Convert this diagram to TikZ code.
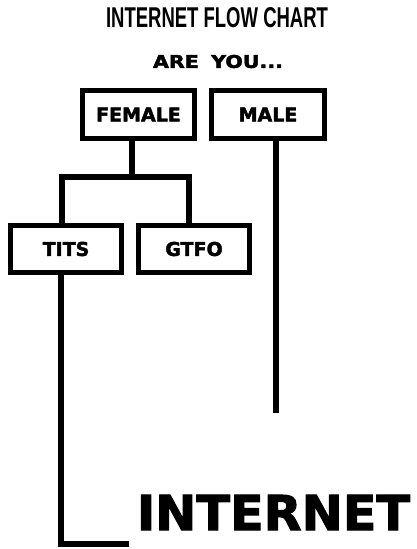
\documentclass[tikz,border=0pt]{standalone}
\usepackage{fontspec}
\usepackage{graphicx}
\setmainfont{DejaVu Sans}
\newfontfamily\heavyfont[FakeBold=2.2]{DejaVu Sans Bold}
\newfontfamily\titlefont{Liberation Sans Bold}
\begin{document}
\begin{tikzpicture}[x=1pt,y=-1pt,
  optbox/.style={draw=black,line width=5pt,fill=white,inner sep=0pt,
    minimum height=48pt,font=\fontsize{19}{19}\heavyfont},
  wire/.style={line width=6pt,line join=miter,line cap=butt},
  lbl/.style={inner sep=0pt,anchor=center}]
\useasboundingbox[fill=white] (0,0) rectangle (417,549);
\node[lbl] (title) at (217,18) {\resizebox{222pt}{20pt}{\titlefont INTERNET FLOW CHART}};
\node[lbl] (areyou) at (218,61.5) {\resizebox{130pt}{13pt}{\heavyfont ARE\hspace{0.6em}YOU...}};
\node[optbox,minimum width=112pt] (female) at (138.5,114.5) {FEMALE};
\node[optbox,minimum width=113pt] (male) at (268,114.5) {MALE};
\node[optbox,minimum width=111pt,minimum height=47pt] (tits) at (66,249) {TITS};
\node[optbox,minimum width=111pt,minimum height=47pt] (gtfo) at (194,249) {GTFO};
\node[lbl] (internet) at (273.5,512.5) {\resizebox{273pt}{35pt}{\heavyfont INTERNET}};
\coordinate (j) at (132,177);
\coordinate (jl) at (62,177);
\coordinate (jr) at (189,177);
\coordinate (mend) at (276,413);
\coordinate (tcorner) at (61,544);
\coordinate (tend) at (129,544);
\draw[wire] (female.south -| j) -- (j);
\draw[wire] (tits.north -| jl) -- (jl) -- (jr) -- (gtfo.north -| jr);
\draw[wire] (male.south -| mend) -- (mend);
\draw[wire] (tits.south -| tcorner) -- (tcorner) -- (tend);
\end{tikzpicture}
\end{document}
